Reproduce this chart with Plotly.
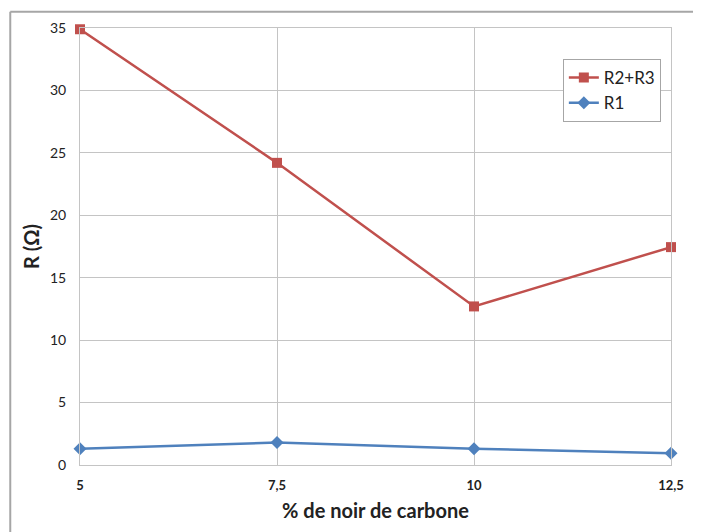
import plotly.graph_objects as go

# Data
x_vals = [5, 7.5, 10, 12.5]
x_labels = ["5", "7,5", "10", "12,5"]
r2_r3 = [34.9, 24.2, 12.7, 17.45]
r1 = [1.3, 1.8, 1.3, 0.95]

fig = go.Figure()
fig.add_trace(go.Scatter(x=x_vals, y=r2_r3, name="R2+R3", mode="lines+markers",
                         line=dict(color="#c0504d", width=2.5),
                         marker=dict(symbol="square", size=10, color="#c0504d"),
                         cliponaxis=False))
fig.add_trace(go.Scatter(x=x_vals, y=r1, name="R1", mode="lines+markers",
                         line=dict(color="#4f81bd", width=2.5),
                         marker=dict(symbol="diamond", size=10, color="#4f81bd"),
                         cliponaxis=False))

# Outer frame of the chart (left and top edges are visible)
fig.add_shape(type="line", xref="paper", yref="paper", x0=-0.118, x1=-0.118, y0=-0.2, y1=1.037,
              line=dict(color="#a6a6a6", width=2))
fig.add_shape(type="line", xref="paper", yref="paper", x0=-0.118, x1=1.1, y0=1.037, y1=1.037,
              line=dict(color="#a6a6a6", width=2))

# The page body adds an 8px offset, so the figure is sized to fit the window
fig.update_layout(
    width=693, height=524,
    margin=dict(l=72, r=30, t=20, b=67),
    paper_bgcolor="white", plot_bgcolor="white",
    font=dict(family="Lato, Open Sans, sans-serif", color="#222222"),
    showlegend=True,
    legend=dict(x=0.817, y=0.929, xanchor="left", yanchor="top",
                bgcolor="white", bordercolor="#a6a6a6", borderwidth=1,
                font=dict(size=17), tracegroupgap=8),
    xaxis=dict(range=[5, 12.5], tickvals=x_vals, ticktext=x_labels, automargin=False,
               showgrid=True, gridcolor="#c4c4c4", gridwidth=1,
               showline=True, linecolor="#c4c4c4", mirror=True, zeroline=False,
               tickfont=dict(size=13, family="Lato", weight="bold"), ticks="",
               ticklabelstandoff=8,
               title=dict(text="<b>% de noir de carbone</b>", font=dict(size=20), standoff=12)),
    yaxis=dict(range=[0, 35], dtick=5, automargin=False,
               showgrid=True, gridcolor="#c4c4c4", gridwidth=1,
               showline=True, linecolor="#c4c4c4", mirror=True, zeroline=False,
               tickfont=dict(size=14), ticks="", ticklabelstandoff=10,
               title=dict(text="<b>R (Ω)</b>", font=dict(size=20), standoff=4)),
)

fig.write_html("out.html")
